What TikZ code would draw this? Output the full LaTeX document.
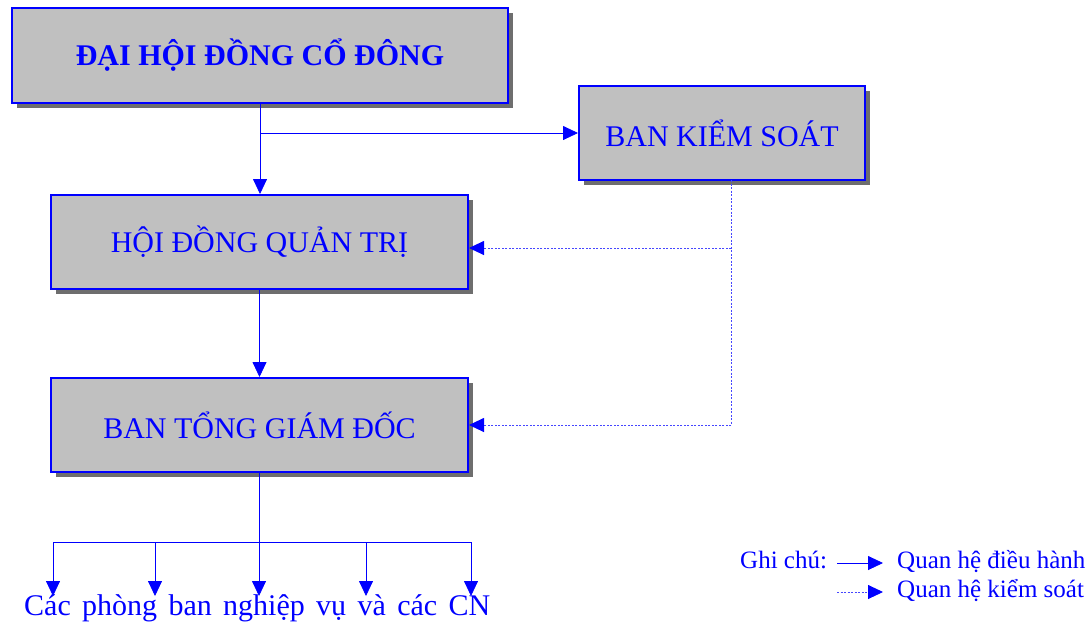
\documentclass[tikz,border=0pt]{standalone}
\usepackage{fontspec}
\setmainfont{Liberation Serif}
\usetikzlibrary{arrows.meta,shadows,calc}
\definecolor{boxgray}{RGB}{192,192,192}
\definecolor{shadowgray}{RGB}{110,110,110}
\definecolor{mblue}{RGB}{0,0,255}
\definecolor{dblue}{RGB}{70,70,255}
\tikzset{
  orgbox/.style={draw=mblue, line width=2pt, fill=boxgray, text=mblue,
    font=\fontsize{30}{36}\selectfont, inner sep=0pt,
    drop shadow={shadow xshift=5pt, shadow yshift=-5pt, fill=shadowgray, opacity=1}},
  solidarrow/.style={draw=mblue, line width=0.8pt, -{Triangle[length=15pt,width=14pt]}},
  solidline/.style={draw=mblue, line width=0.8pt},
  dotline/.style={draw=dblue, line width=0.9pt, dash pattern=on 2pt off 1.5pt},
  dotarrow/.style={dotline, -{Triangle[length=15pt,width=14pt,color=mblue,fill=mblue]}},
  legtext/.style={text=mblue, font=\fontsize{25}{29}\selectfont, inner sep=0pt, anchor=base west},
}
\begin{document}
\begin{tikzpicture}[x=1pt,y=-1pt]
\useasboundingbox (0,0) rectangle (1092,622);
% boxes
\node[orgbox, minimum width=496pt, minimum height=95pt] (dh) at (260,55.5) {\bfseries ĐẠI HỘI ĐỒNG CỔ ĐÔNG};
\node[orgbox, minimum width=286pt, minimum height=94pt] (bks) at (722,133) {BAN KIỂM SOÁT};
\node[orgbox, minimum width=417pt, minimum height=94pt] (hd) at (259.5,242) {HỘI ĐỒNG QUẢN TRỊ};
\node[orgbox, minimum width=417pt, minimum height=94pt] (tgd) at (259.5,425) {BAN TỔNG GIÁM ĐỐC};
% solid connectors
\draw[solidarrow] (dh.south) -- (dh.south |- hd.north);
\coordinate (j1) at (dh.south |- bks.west);
\draw[solidarrow] (j1) -- (bks.west);
\draw[solidarrow] (hd.south) -- (tgd.north);
% dotted control lines
\coordinate (ks) at (731,180);
\coordinate (kh) at (731,248);
\coordinate (kt) at (731,425);
\draw[dotline] (ks) -- (kt);
\draw[dotarrow] (kh) -- (hd.east |- kh);
\draw[dotarrow] (kt) -- (tgd.east |- kt);
% bottom branching
\coordinate (bj) at (tgd.south |- 0,542);
\coordinate (bl) at (53,542);
\coordinate (br) at (471,542);
\draw[solidline] (tgd.south) -- (bj);
\draw[solidline] (bl) -- (br);
\node[text=mblue, font=\fontsize{30}{36}\selectfont, inner sep=0pt, anchor=base west] (cn) at (24,615)
  {\makebox[466pt][s]{Các phòng ban nghiệp vụ và các CN}};
\foreach \x/\n in {53/a,155/b,259/c,366/d,471/e}{
  \coordinate (t\n) at (\x,542);
  \coordinate (e\n) at (\x,596);
  \draw[solidarrow] (t\n) -- (e\n);
}
% legend
\node[legtext] (gc) at (740,568) {Ghi chú:};
\node[legtext] (l1) at (897,568) {Quan hệ điều hành};
\node[legtext] (l2) at (897,597) {Quan hệ kiểm soát};
\coordinate (la) at (837,563);
\coordinate (lb) at (883,563);
\coordinate (lc) at (837,592);
\coordinate (ld) at (883,592);
\draw[solidarrow] (la) -- (lb);
\draw[dotarrow] (lc) -- (ld);
\end{tikzpicture}
\end{document}
